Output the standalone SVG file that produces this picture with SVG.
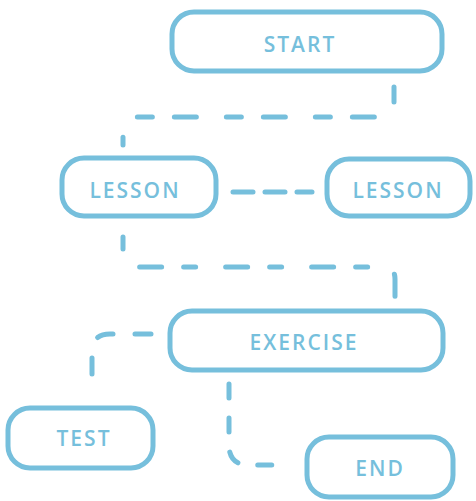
<svg xmlns="http://www.w3.org/2000/svg" width="476" height="501" viewBox="0 0 476 501">
<style>
.n{fill:#fff;stroke:#76bfdc;stroke-width:5}
.t{fill:#76bfdc;font-family:"Open Sans",sans-serif;font-weight:600;font-size:21px;letter-spacing:2px;text-anchor:middle;dominant-baseline:central}
.c{fill:none;stroke:#76bfdc;stroke-width:5;stroke-linecap:round;stroke-dasharray:22 22}
</style>
<rect width="476" height="501" fill="#fff"/>
<g id="connectors">
<path class="c" d="M394 87 L394 105 Q394 117 382 117 L135 117 Q123 117 123 129 L123 145" style="stroke-dasharray:15 30 22 22"/>
<path class="c" d="M233 192 L312 192" style="stroke-dasharray:20 12"/>
<path class="c" d="M123 237 L123 255 Q123 267 135 267 L383 267 Q395 267 395 279 L395 297" style="stroke-dasharray:12 30 22 22"/>
<path class="c" d="M151 334 L110 334 Q92 334 92 352 L92 388" style="stroke-dasharray:16 22"/>
<path class="c" d="M229 384 L229 445 Q229 465 249 465 L290 465" style="stroke-dasharray:14 20"/>
</g>
<g id="start"><rect class="n" x="172" y="12" width="270" height="59" rx="22"/><text class="t" x="300" y="44">START</text></g>
<g id="lesson1"><rect class="n" x="62" y="158" width="154" height="58" rx="22"/><text class="t" x="135" y="190">LESSON</text></g>
<g id="lesson2"><rect class="n" x="327" y="159" width="143" height="57" rx="22"/><text class="t" x="398" y="190">LESSON</text></g>
<g id="exercise"><rect class="n" x="170" y="311" width="273" height="59" rx="22"/><text class="t" x="304" y="342">EXERCISE</text></g>
<g id="test"><rect class="n" x="8" y="408" width="145" height="60" rx="22"/><text class="t" x="84" y="438">TEST</text></g>
<g id="end"><rect class="n" x="307" y="437" width="146" height="60" rx="22"/><text class="t" x="380" y="468">END</text></g>
</svg>
